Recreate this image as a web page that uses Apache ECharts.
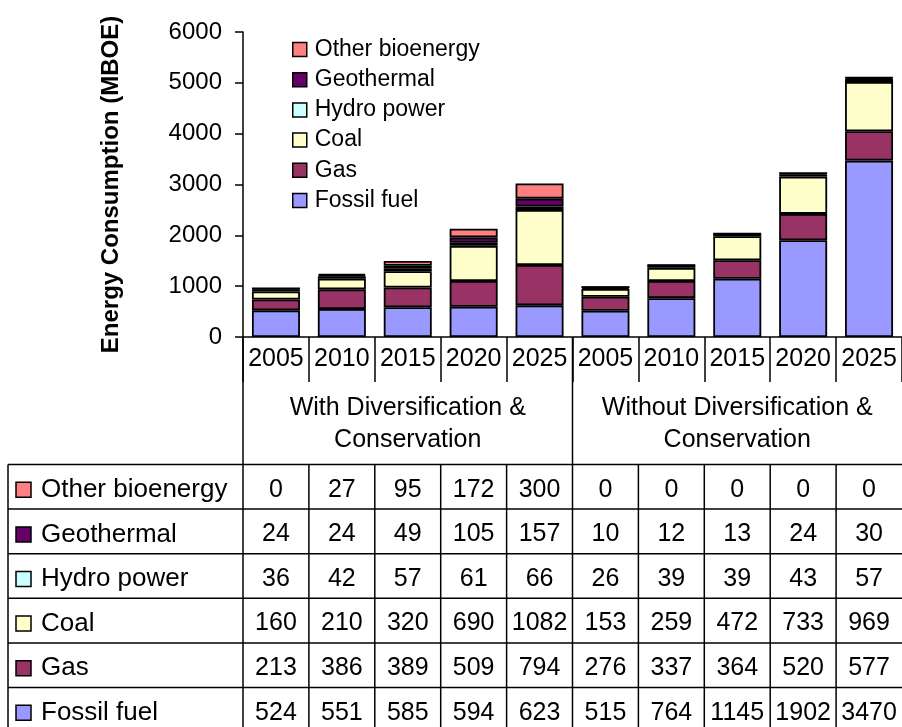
<!DOCTYPE html>
<html>
<head>
<meta charset="utf-8">
<title>Energy Consumption (MBOE)</title>
<script src="https://cdn.jsdelivr.net/npm/echarts@6/dist/echarts.min.js"></script>
<style>
  html, body { margin: 0; padding: 0; background: #fff; }
  #chart { width: 902px; height: 727px; }
</style>
</head>
<body>
<div id="chart"></div>
<script>
// ---- data ----
const yearLabels = ['2005', '2010', '2015', '2020', '2025', '2005', '2010', '2015', '2020', '2025'];
const groupLabels = ['With Diversification &\nConservation', 'Without Diversification &\nConservation'];
const groupSize = 5;

const fossilFuel     = [524, 551, 585, 594, 623, 515, 764, 1145, 1902, 3470];
const gas            = [213, 386, 389, 509, 794, 276, 337, 364, 520, 577];
const coal           = [160, 210, 320, 690, 1082, 153, 259, 472, 733, 969];
const hydroPower     = [36, 42, 57, 61, 66, 26, 39, 39, 43, 57];
const geothermal     = [24, 24, 49, 105, 157, 10, 12, 13, 24, 30];
const otherBioenergy = [0, 27, 95, 172, 300, 0, 0, 0, 0, 0];

const yMin = 0, yMax = 6000, yStep = 1000;

// ---- styling ----
const FONT = '"Liberation Sans", Arial, Helvetica, sans-serif';
const seriesDefs = [
  { name: 'Fossil fuel',     data: fossilFuel,     color: '#9999FF' },
  { name: 'Gas',             data: gas,            color: '#993366' },
  { name: 'Coal',            data: coal,           color: '#FFFFCC' },
  { name: 'Hydro power',     data: hydroPower,     color: '#CCFFFF' },
  { name: 'Geothermal',      data: geothermal,     color: '#660066' },
  { name: 'Other bioenergy', data: otherBioenergy, color: '#FF8080' }
];
const tableRows = seriesDefs.slice().reverse();

// category keys are unique per group; the axis shows only the year
const categories = yearLabels.map((y, i) => 'G' + Math.floor(i / groupSize) + '-' + y);

const chart = echarts.init(document.getElementById('chart'), null, { renderer: 'canvas' });

const option = {
  animation: false,
  backgroundColor: '#fff',
  grid: { left: 243, top: 32, width: 662, height: 305, containLabel: false },
  legend: {
    orient: 'vertical',
    left: 287,
    top: 33,
    icon: 'rect',
    itemWidth: 14,
    itemHeight: 14,
    itemGap: 7.2,
    selectedMode: false,
    data: tableRows.map(s => s.name),
    itemStyle: { borderColor: '#000', borderWidth: 1.5 },
    textStyle: { fontFamily: FONT, fontSize: 23, color: '#000', padding: [0, 0, 0, 3] }
  },
  xAxis: {
    type: 'category',
    data: categories,
    axisLine: { show: true, lineStyle: { color: '#000', width: 1.5 } },
    axisTick: { show: true, interval: 0, length: 45, lineStyle: { color: '#000', width: 1.5 } },
    axisLabel: {
      interval: 0,
      margin: 10,
      fontFamily: FONT,
      fontSize: 25,
      color: '#000',
      formatter: (v, i) => yearLabels[i]
    },
    splitLine: { show: false }
  },
  yAxis: {
    type: 'value',
    min: yMin,
    max: yMax,
    interval: yStep,
    name: 'Energy Consumption (MBOE)',
    nameLocation: 'middle',
    nameGap: 120,
    nameTextStyle: { fontFamily: FONT, fontSize: 24, fontWeight: 'bold', color: '#000' },
    axisLine: { show: true, lineStyle: { color: '#000', width: 1.5 } },
    axisTick: { show: true, length: 8, lineStyle: { color: '#000', width: 1.5 } },
    axisLabel: {
      margin: 21, fontFamily: FONT, fontSize: 24, color: '#000',
      formatter: v => String(v)
    },
    splitLine: { show: false }
  },
  series: seriesDefs.map(s => ({
    name: s.name,
    type: 'bar',
    stack: 'total',
    barWidth: 48,
    data: s.data,
    itemStyle: { color: s.color, borderColor: '#000', borderWidth: 1.8 },
    emphasis: { disabled: true }
  }))
};

chart.setOption(option);

// ---- category labels and data table under the axis ----
const xCenter = i => chart.convertToPixel({ xAxisIndex: 0 }, i);
const band = xCenter(1) - xCenter(0);
const boundary = k => xCenter(0) - band / 2 + k * band;
const yBase = chart.convertToPixel({ yAxisIndex: 0 }, yMin);

const pageBottom = 727;
const tableTop = 464.5;
const rowH = 44.6;
const tableLeft = 8;
const tableRight = boundary(yearLabels.length);
const lineStyle = { stroke: '#000', lineWidth: 1.5 };

const g = [];
const line = (x1, y1, x2, y2) => g.push({
  type: 'line', silent: true,
  shape: { x1, y1, x2, y2 },
  style: lineStyle
});

// axis line continued down through the labels and table
line(boundary(0), yBase, boundary(0), pageBottom);
// separator between the two scenario groups
line(boundary(groupSize), yBase, boundary(groupSize), pageBottom);
// table grid
for (let k = 1; k < yearLabels.length; k++) {
  if (k !== groupSize) line(boundary(k), tableTop, boundary(k), pageBottom);
}
line(tableLeft, tableTop, tableLeft, pageBottom);
for (let r = 0; r < tableRows.length; r++) {
  const y = tableTop + r * rowH;
  line(tableLeft, y, tableRight, y);
}

// scenario group labels
groupLabels.forEach((label, gi) => {
  const cx = (boundary(gi * groupSize) + boundary((gi + 1) * groupSize)) / 2;
  g.push({
    type: 'text', silent: true,
    x: cx, y: 424,
    style: {
      text: label, fontFamily: FONT, fontSize: 25, fill: '#000',
      lineHeight: 32, align: 'center', verticalAlign: 'middle'
    }
  });
});

// table rows: key, name, values
tableRows.forEach((s, r) => {
  const cy = tableTop + r * rowH + rowH / 2 + 3;
  g.push({
    type: 'rect', silent: true,
    shape: { x: 16, y: cy - 7.5, width: 15, height: 15 },
    style: { fill: s.color, stroke: '#000', lineWidth: 1.5 }
  });
  g.push({
    type: 'text', silent: true,
    x: 41, y: cy,
    style: { text: s.name, fontFamily: FONT, fontSize: 26, fill: '#000', align: 'left', verticalAlign: 'middle' }
  });
  s.data.forEach((v, i) => {
    g.push({
      type: 'text', silent: true,
      x: xCenter(i), y: cy,
      style: { text: String(v), fontFamily: FONT, fontSize: 25, fill: '#000', align: 'center', verticalAlign: 'middle' }
    });
  });
});

chart.setOption({ graphic: g });
</script>
</body>
</html>
